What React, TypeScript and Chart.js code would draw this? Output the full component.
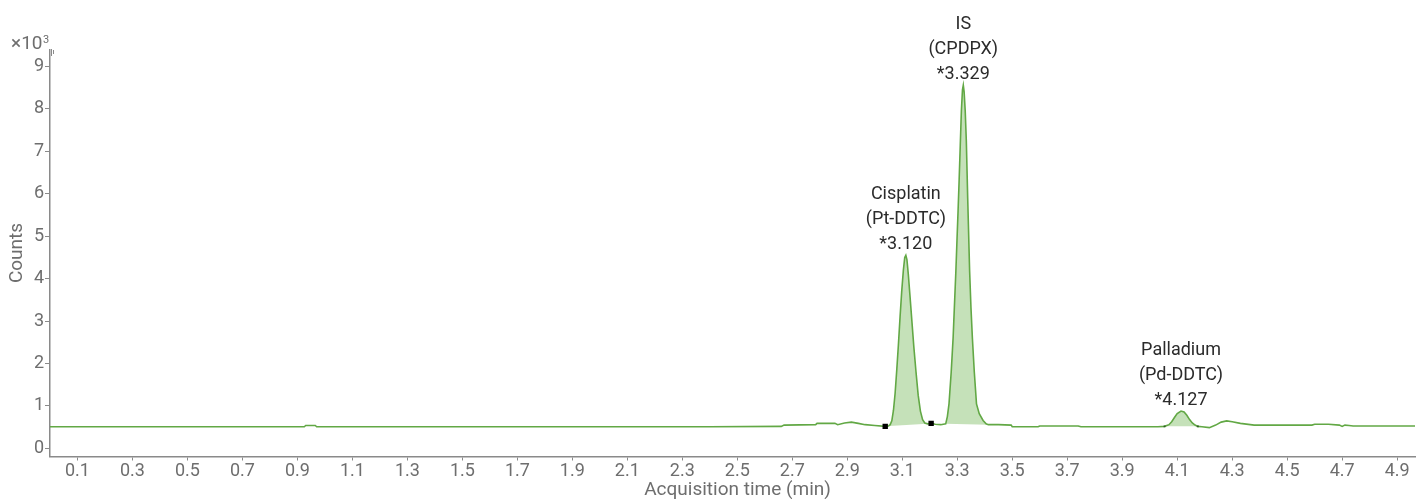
import React, { useEffect, useRef } from "react";
import { Chart, registerables } from "chart.js";

Chart.register(...registerables);

// Acquisition time (min)
const timeValues: number[] = [
  0.0, 0.3, 0.6, 0.9, 0.925, 0.93, 0.965, 0.97, 1.3, 1.7, 2.1, 2.4, 2.66, 2.67, 2.785, 2.79, 2.855, 2.865,
  2.89, 2.915, 2.94, 2.965, 3.0, 3.038, 3.05, 3.056,
  3.062, 3.068, 3.074, 3.08, 3.086, 3.092, 3.098, 3.104, 3.109, 3.113, 3.117, 3.122, 3.128, 3.135, 3.142,
  3.15, 3.158, 3.166, 3.174, 3.182, 3.192, 3.205, 3.22, 3.24, 3.258,
  3.264, 3.27, 3.278, 3.285, 3.29, 3.295, 3.299, 3.303, 3.307, 3.311, 3.315, 3.319, 3.322, 3.325, 3.329, 3.333,
  3.338, 3.345, 3.35, 3.355, 3.362, 3.37, 3.38, 3.394, 3.405, 3.413,
  3.45, 3.496, 3.5, 3.594, 3.6, 3.74, 3.75, 4.03,
  4.054, 4.07, 4.08, 4.09, 4.1, 4.114, 4.125, 4.135, 4.145, 4.155, 4.165, 4.175,
  4.19, 4.217, 4.24, 4.26, 4.28, 4.3, 4.33, 4.38, 4.59, 4.6, 4.65, 4.69, 4.7, 4.71, 4.725, 4.74, 4.965,
];

// Counts (x10^3)
const countValues: number[] = [
  0.51, 0.51, 0.51, 0.51, 0.51, 0.54, 0.54, 0.51, 0.51, 0.51, 0.51, 0.51, 0.52, 0.55, 0.56, 0.59, 0.59, 0.56,
  0.6, 0.62, 0.59, 0.56, 0.54, 0.52, 0.53, 0.56,
  0.65, 0.9, 1.3, 1.85, 2.45, 3.1, 3.7, 4.2, 4.5, 4.55, 4.45, 4.1, 3.6, 3.0, 2.4,
  1.8, 1.25, 0.88, 0.68, 0.6, 0.58, 0.59, 0.57, 0.56, 0.58,
  0.75, 1.05, 1.8, 2.61, 3.4, 4.18, 4.9, 5.6, 6.35, 7.15, 7.95, 8.45, 8.56, 8.4, 7.95, 7.25,
  5.9, 4.18, 3.3, 2.61, 1.8, 1.05, 0.82, 0.66, 0.58, 0.56,
  0.56, 0.55, 0.51, 0.51, 0.53, 0.53, 0.51, 0.51,
  0.52, 0.56, 0.63, 0.73, 0.82, 0.88, 0.86, 0.78, 0.68, 0.6, 0.55, 0.52,
  0.51, 0.49, 0.55, 0.62, 0.65, 0.63, 0.59, 0.55, 0.55, 0.57, 0.57, 0.55, 0.52, 0.55, 0.54, 0.53, 0.53,
];

// Integrated peak regions
const peakNames: string[][] = [
  ["Cisplatin", "(Pt-DDTC)", "*3.120"],
  ["IS", "(CPDPX)", "*3.329"],
  ["Palladium", "(Pd-DDTC)", "*4.127"],
];
const peakApexTime: number[] = [3.113, 3.322, 4.114];
const peakApexCount: number[] = [4.55, 8.56, 0.88];
const peakStart: number[] = [3.038, 3.258, 4.054];
const peakEnd: number[] = [3.205, 3.413, 4.175];

// Integration markers
const markerTimes: number[] = [3.038, 3.205];
const markerCounts: number[] = [0.52, 0.59];
const smallMarkerTimes: number[] = [4.054, 4.175];
const smallMarkerCounts: number[] = [0.52, 0.52];

const xTickValues: number[] = [
  0.1, 0.3, 0.5, 0.7, 0.9, 1.1, 1.3, 1.5, 1.7, 1.9, 2.1, 2.3, 2.5, 2.7, 2.9, 3.1, 3.3, 3.5, 3.7, 3.9, 4.1, 4.3,
  4.5, 4.7, 4.9,
];
const yTickValues: number[] = [0, 1, 2, 3, 4, 5, 6, 7, 8, 9];

const xTitle = "Acquisition time (min)";

const FONT = "Roboto, 'Noto Sans', sans-serif";
const LINE = "#62a845";
const AXIS = "#8a8a8a";
const TICKTXT = "#6e6e6e";

const overlayPlugin = {
  id: "overlay",
  beforeDatasetsDraw(chart: any) {
    const ctx = chart.ctx;
    const meta = chart.getDatasetMeta(0);
    const pts = meta.data;
    ctx.save();
    ctx.fillStyle = "rgba(140,196,115,0.5)";
    for (let k = 0; k < peakStart.length; k++) {
      const sel: any[] = [];
      for (let i = 0; i < timeValues.length; i++) {
        if (timeValues[i] >= peakStart[k] - 1e-9 && timeValues[i] <= peakEnd[k] + 1e-9) sel.push(pts[i]);
      }
      if (sel.length < 2) continue;
      ctx.beginPath();
      ctx.moveTo(sel[0].x, sel[0].y);
      for (let j = 1; j < sel.length; j++) ctx.lineTo(sel[j].x, sel[j].y);
      ctx.closePath();
      ctx.fill();
    }
    ctx.restore();
  },
  afterDatasetsDraw(chart: any) {
    const ctx = chart.ctx;
    const xs = chart.scales.x;
    const ys = chart.scales.y;
    ctx.save();
    ctx.fillStyle = "#2b2b2b";
    ctx.font = `18px ${FONT}`;
    ctx.textAlign = "center";
    ctx.textBaseline = "middle";
    for (let k = 0; k < peakNames.length; k++) {
      const px = xs.getPixelForValue(peakApexTime[k]);
      const py = ys.getPixelForValue(peakApexCount[k]);
      const lines = peakNames[k];
      for (let j = 0; j < lines.length; j++) {
        const off = (lines.length - 1 - j) * 25 + 11;
        ctx.fillText(lines[j], px, py - off);
      }
    }
    // x axis title
    ctx.fillStyle = TICKTXT;
    ctx.font = `19px ${FONT}`;
    ctx.fillText(xTitle, (xs.left + xs.right) / 2 + 5, 490);
    // multiplier
    ctx.textAlign = "left";
    ctx.textBaseline = "alphabetic";
    ctx.font = `19px ${FONT}`;
    ctx.fillText("×10", 11, 49);
    ctx.font = `11px ${FONT}`;
    ctx.fillText("3", 43, 43);
    ctx.strokeStyle = AXIS;
    ctx.lineWidth = 1;
    ctx.beginPath();
    ctx.moveTo(51.5, 49);
    ctx.lineTo(51.5, 56);
    ctx.moveTo(53.5, 50);
    ctx.lineTo(53.5, 54);
    ctx.stroke();
    ctx.restore();
  },
};

export default function App() {
  const ref = useRef<HTMLCanvasElement>(null);
  useEffect(() => {
    document.body.style.margin = "0";
    const canvas = ref.current!;
    const chart = new Chart(canvas, {
      type: "line",
      data: {
        datasets: [
          {
            data: timeValues.map((t, i) => ({ x: t, y: countValues[i] })),
            borderColor: LINE,
            borderWidth: 1.6,
            pointRadius: 0,
            tension: 0,
            fill: false,
            order: 5,
          },
          {
            data: markerTimes.map((t, i) => ({ x: t, y: markerCounts[i] })),
            showLine: false,
            pointStyle: "rect",
            pointRadius: 3.8,
            pointBorderWidth: 0,
            pointBackgroundColor: "#000",
            pointBorderColor: "#000",
            order: 0,
          },
          {
            data: smallMarkerTimes.map((t, i) => ({ x: t, y: smallMarkerCounts[i] })),
            showLine: false,
            pointStyle: "rect",
            pointRadius: 1.4,
            pointBorderWidth: 0,
            pointBackgroundColor: "#2f5f22",
            pointBorderColor: "#2f5f22",
            order: 1,
          },
        ],
      },
      options: {
        responsive: false,
        animation: false,
        layout: { padding: { top: 49.5, right: -1, left: 0, bottom: 0 } },
        plugins: { legend: { display: false }, tooltip: { enabled: false } },
        scales: {
          x: {
            type: "linear",
            min: 0,
            max: 4.965,
            afterBuildTicks: (s: any) => {
              s.ticks = xTickValues.map((v) => ({ value: v }));
            },
            afterFit: (s: any) => {
              s.height = 42.5;
            },
            ticks: {
              color: TICKTXT,
              font: { family: FONT, size: 18 },
              padding: 0,
              maxRotation: 0,
              autoSkip: false,
              callback: (v: any) => Number(v).toFixed(1),
            },
            grid: { drawOnChartArea: false, drawTicks: true, tickLength: 4, color: AXIS },
            border: { color: AXIS, width: 1.5 },
            title: { display: false },
          },
          y: {
            type: "linear",
            min: -0.19,
            max: 9.4,
            afterBuildTicks: (s: any) => {
              s.ticks = yTickValues.map((v) => ({ value: v }));
            },
            afterFit: (s: any) => {
              s.width = 50;
            },
            ticks: {
              color: TICKTXT,
              font: { family: FONT, size: 18 },
              padding: 1,
              callback: (v: any) => String(v),
            },
            grid: { drawOnChartArea: false, drawTicks: true, tickLength: 5, color: AXIS },
            border: { color: AXIS, width: 1.5 },
            title: {
              display: true,
              text: "Counts",
              color: TICKTXT,
              font: { family: FONT, size: 19 },
              padding: { top: 5.5, bottom: 5.5 },
            },
          },
        },
      },
      plugins: [overlayPlugin],
    });
    return () => chart.destroy();
  }, []);
  return (
    <div style={{ width: 1419, height: 499 }}>
      <canvas ref={ref} width={1419} height={499} style={{ display: "block" }} />
    </div>
  );
}
